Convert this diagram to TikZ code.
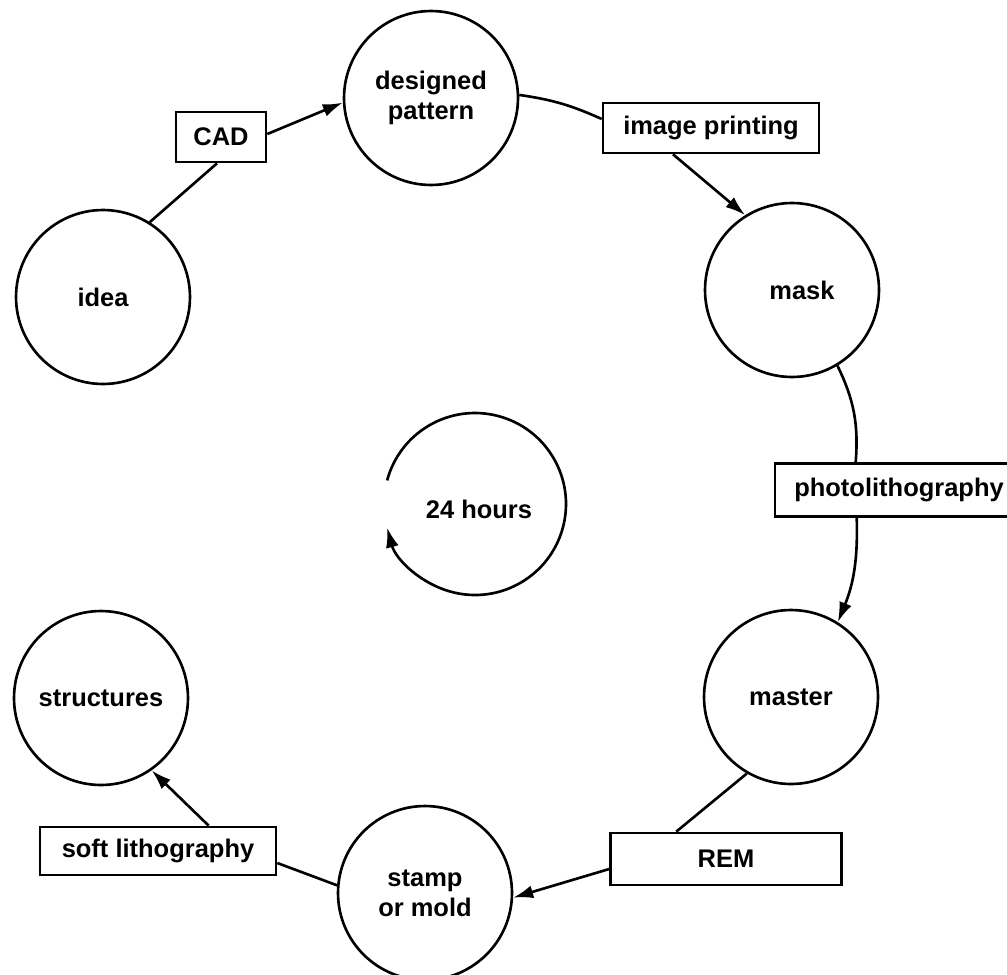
\documentclass[tikz,border=0pt]{standalone}
\usepackage{fontspec}
\setmainfont{Liberation Sans}
\usetikzlibrary{arrows.meta,calc}
\begin{document}
\begin{tikzpicture}[x=0.02cm,y=-0.02cm,
  txt/.style={font=\fontsize{14.5}{17}\selectfont\bfseries},
  stage/.style={circle,draw,line width=1.5pt,minimum size=3.48cm,inner sep=0pt,align=center,txt},
  proc/.style={rectangle,draw,line width=1.5pt,minimum height=1cm,inner sep=0pt,txt},
  link/.style={line width=1.5pt},
  arr/.style={link,-{Latex[length=4mm,width=2.6mm]}}]
\useasboundingbox (0,0) rectangle (1007,974);
% stages
\node[stage] (idea)   at (103,297) {idea};
\node[stage] (dp)     at (431,98)  {designed\\pattern};
\node[stage] (mask)   at (792,290) {\hspace{0.4cm}mask};
\node[stage] (master) at (791,697) {master};
\node[stage] (stamp)  at (425,893) {stamp\\or mold};
\node[stage] (struct) at (101,698) {structures};
% processes
\node[proc,minimum width=1.8cm]  (cad)   at (221,137) {CAD};
\node[proc,minimum width=4.32cm] (imp)   at (711,128) {image printing};
\node[proc,minimum width=4.96cm,minimum height=1.06cm] (photo) at (899,490) {photolithography};
\node[proc,minimum width=4.62cm,minimum height=1.04cm] (rem)   at (726,859) {REM};
\node[proc,minimum width=4.72cm,minimum height=0.96cm] (soft)  at (158,851) {soft lithography};
% centre
\coordinate (cen) at (475,504);
\node[txt] (hrs) at (479,509) {24 hours};
\draw[arr] (cen) ++(165:1.82cm) arc[start angle=165,end angle=-165,radius=1.82cm];
% connectors
\draw[link] (idea.58) -- ($(cad.south)+(-4,0)$);
\draw[arr]  ($(cad.east)+(0,-3)$) -- (dp.183);
\draw[link] (dp.2) to[bend left=8] ($(imp.west)+(0,-9)$);
\draw[arr]  ($(imp.south)+(-38,0)$) -- (mask.122);
\draw[link] (mask.-59) to[bend left=15] ($(photo.north west)+(82,0)$);
\draw[arr]  ($(photo.south west)+(83,0)$) to[bend left=12] (master.58);
\draw[link] (master.240) -- ($(rem.north west)+(67,0)$);
\draw[arr]  ($(rem.west)+(0,10)$) -- (stamp.-3);
\draw[link] (stamp.175) -- ($(soft.east)+(0,12)$);
\draw[arr]  ($(soft.north west)+(170,0)$) -- (struct.-55);
\end{tikzpicture}
\end{document}
